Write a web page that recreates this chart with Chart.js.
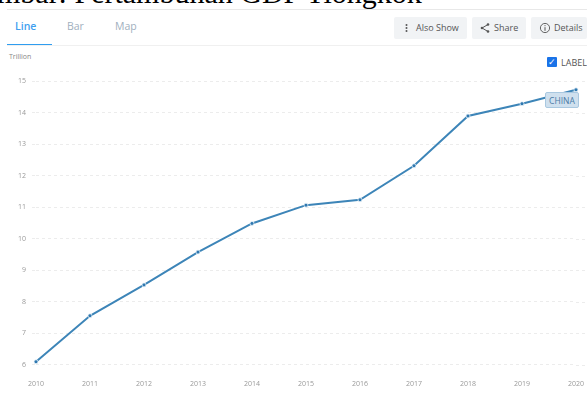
<!DOCTYPE html>
<html>
<head>
<meta charset="utf-8">
<script src="https://cdn.jsdelivr.net/npm/chart.js@4"></script>
<style>
  html, body { margin: 0; padding: 0; background: #fff; width: 587px; height: 407px; overflow: hidden; }
  body { position: relative; font-family: "Open Sans", sans-serif; }
  #title { position: absolute; left: -38px; top: -24px; font: 30px "Liberation Serif", serif; color: #000; white-space: nowrap; }
  #topline { position: absolute; left: 7px; right: 0; top: 9px; height: 1px; background: #e8e8e8; }
  #tabline { position: absolute; left: 7px; right: 0; top: 45px; height: 1px; background: #f0f0f0; }
  .tab { position: absolute; top: 19px; font-size: 10.5px; color: #9fb0be; }
  .tab.active { color: #3f9ff0; font-weight: 600; }
  #underline { position: absolute; left: 7px; top: 44px; width: 45px; height: 2px; background: #2f9df0; }
  .btn { position: absolute; top: 17px; height: 22px; line-height: 21px; background: #f1f3f5; border-radius: 2px; font-size: 9px; color: #555; white-space: nowrap; }
  .btn span { position: absolute; top: 0; }
  .btn svg { position: absolute; top: 5px; }
  #unit { position: absolute; left: 9px; top: 52px; font-size: 7px; color: #888; }
  #check { position: absolute; left: 547px; top: 57px; width: 10px; height: 10px; background: #1a73e8; border-radius: 1px; color: #fff; font-size: 9px; line-height: 10px; text-align: center; }
  #labelTxt { position: absolute; left: 561px; top: 56px; font-size: 9px; color: #555; }
  #wrap { position: absolute; left: 0; top: 60px; width: 591px; height: 340px; }
  #china { position: absolute; left: 545px; top: 92px; width: 34px; height: 16px; line-height: 15px; text-align: center; background: #cfe0ee; border: 1px solid #a9c8e0; border-radius: 2px; box-sizing: border-box; font-size: 8.5px; color: #4a7ba6; }
</style>
</head>
<body>
<div id="title">Gambar: Pertambuhan GDP Tiongkok</div>
<div id="topline"></div>
<div class="tab active" style="left:15px">Line</div>
<div class="tab" style="left:67px">Bar</div>
<div class="tab" style="left:115px">Map</div>
<div id="underline"></div>
<div id="tabline"></div>
<div class="btn" style="left:394px;width:73px"><svg style="left:11px" width="3" height="12"><circle cx="1.5" cy="3" r="1" fill="#555"/><circle cx="1.5" cy="6" r="1" fill="#555"/><circle cx="1.5" cy="9" r="1" fill="#555"/></svg><span style="left:22px">Also Show</span></div>
<div class="btn" style="left:472px;width:54px"><svg style="left:8px" width="10" height="12"><path d="M8 2.5 L2 6 L8 9.5" fill="none" stroke="#555" stroke-width="1"/><circle cx="8" cy="2.5" r="1.3" fill="#555"/><circle cx="2" cy="6" r="1.3" fill="#555"/><circle cx="8" cy="9.5" r="1.3" fill="#555"/></svg><span style="left:22px">Share</span></div>
<div class="btn" style="left:531px;width:56px"><svg style="left:8px" width="12" height="12"><circle cx="6" cy="6" r="4.6" fill="none" stroke="#555" stroke-width="0.9"/><path d="M6 5.2 V8.8 M6 3.2 V4.2" stroke="#555" stroke-width="1"/></svg><span style="left:23px">Details</span></div>
<div id="unit">Trillion</div>
<div id="check">✓</div>
<div id="labelTxt">LABEL</div>
<div id="wrap"><canvas id="chart"></canvas></div>
<div id="china">CHINA</div>
<script>
  const years = ["2010", "2011", "2012", "2013", "2014", "2015", "2016", "2017", "2018", "2019", "2020"];
  const gdp = [6.09, 7.55, 8.53, 9.57, 10.48, 11.06, 11.23, 12.31, 13.89, 14.28, 14.72];
  const GRID_COLOR = "#ececec";

  // gridlines run on to the page edge in the original, past the last year
  const gridToEdge = {
    id: "gridToEdge",
    beforeDatasetsDraw(chart) {
      const { ctx, chartArea, scales } = chart;
      ctx.save();
      ctx.strokeStyle = GRID_COLOR;
      ctx.lineWidth = 1;
      ctx.setLineDash([3, 3]);
      scales.y.ticks.forEach((tick) => {
        const y = Math.round(scales.y.getPixelForValue(tick.value)) + 0.5;
        ctx.beginPath();
        ctx.moveTo(chartArea.right, y);
        ctx.lineTo(chart.width, y);
        ctx.stroke();
      });
      ctx.restore();
    },
  };

  new Chart(document.getElementById("chart"), {
    type: "line",
    plugins: [gridToEdge],
    data: {
      labels: years,
      datasets: [{
        data: gdp,
        borderColor: "#3d85b8",
        borderWidth: 2,
        tension: 0,
        pointRadius: 2,
        pointBackgroundColor: "#2f78b0",
        pointBorderColor: "#eef5fa",
        pointBorderWidth: 0.8,
      }],
    },
    options: {
      responsive: true,
      maintainAspectRatio: false,
      animation: false,
      layout: { padding: { left: 0, right: 4, top: 21, bottom: 5 } },
      plugins: { legend: { display: false }, tooltip: { enabled: false } },
      scales: {
        x: {
          grid: { display: false },
          border: { display: false },
          ticks: { color: "#999", font: { family: "Open Sans", size: 7 }, maxRotation: 0, padding: 7 },
        },
        y: {
          min: 6,
          max: 15,
          afterFit: (axis) => { axis.width = 36; },
          grid: { color: GRID_COLOR, tickColor: GRID_COLOR, tickLength: 4, tickBorderDash: [3, 3] },
          border: { display: false, dash: [3, 3] },
          ticks: { stepSize: 1, color: "#999", font: { family: "Open Sans", size: 7 }, padding: 6 },
        },
      },
    },
  });
</script>
</body>
</html>
